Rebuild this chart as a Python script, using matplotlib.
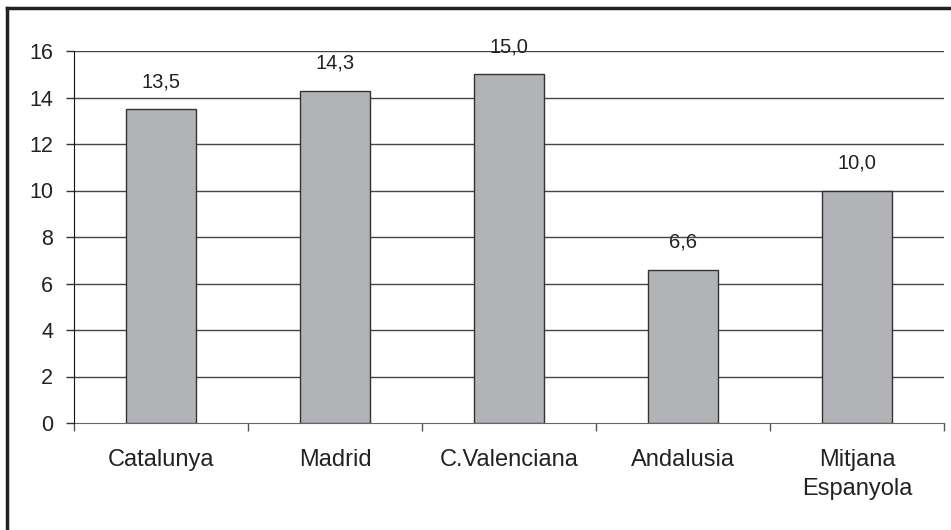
import matplotlib
matplotlib.use('Agg')
import matplotlib.pyplot as plt
from matplotlib.lines import Line2D
import numpy as np

plt.rcParams['font.family'] = ['Liberation Sans', 'DejaVu Sans']

# data
categories = ['Catalunya', 'Madrid', 'C.Valenciana', 'Andalusia', 'Mitjana\nEspanyola']
values = [13.5, 14.3, 15.0, 6.6, 10.0]
value_labels = ['13,5', '14,3', '15,0', '6,6', '10,0']
y_ticks = [0, 2, 4, 6, 8, 10, 12, 14, 16]

fig = plt.figure(figsize=(9.51, 5.30), dpi=100)
ax = fig.add_axes([74 / 951, 1 - 423 / 530, 870 / 951, 372 / 530])

x = np.arange(len(categories))
bars = ax.bar(x, values, width=0.40, color='#b2b3b6', edgecolor='#333333',
              linewidth=1.0, zorder=3)

# value labels above bars
for xi, v, lab in zip(x, values, value_labels):
    ax.annotate(lab, (xi, v), xytext=(0, 13), textcoords='offset points',
                ha='center', va='bottom', fontsize=14.5, color='#222222')

ax.set_xlim(-0.5, len(categories) - 0.5)
ax.set_ylim(0, 16)

# horizontal gridlines
for t in y_ticks[1:]:
    ax.axhline(t, color='#444444', linewidth=1.0, zorder=1)

ax.set_yticks(y_ticks)
ax.set_yticklabels([str(t) for t in y_ticks])
ax.tick_params(axis='y', direction='out', length=6, width=1, color='#333333',
               labelsize=15.5, labelcolor='#222222', pad=9)

# boundary ticks on x axis, labels at category centres
ax.set_xticks(np.arange(-0.5, len(categories), 1.0))
ax.set_xticklabels([])
ax.set_xticks(x, minor=True)
ax.set_xticklabels(categories, minor=True)
ax.tick_params(axis='x', which='major', direction='out', length=6, width=1,
               color='#555555')
ax.tick_params(axis='x', which='minor', length=0, labelsize=17,
               labelcolor='#222222', pad=19)
for lbl in ax.get_xticklabels(minor=True):
    lbl.set_linespacing(1.4)

ax.spines['top'].set_visible(False)
ax.spines['right'].set_visible(False)
ax.spines['left'].set_color('#111111')
ax.spines['bottom'].set_color('#666666')
ax.spines['left'].set_zorder(4)

# outer frame (only top and left visible in the source)
fig.add_artist(Line2D([7 / 951, 7 / 951], [0, 1 - 8 / 530],
                      transform=fig.transFigure, color='#222222', linewidth=2.5))
fig.add_artist(Line2D([7 / 951, 1], [1 - 8 / 530, 1 - 8 / 530],
                      transform=fig.transFigure, color='#222222', linewidth=2.5))

fig.savefig('out.png', dpi=100)
